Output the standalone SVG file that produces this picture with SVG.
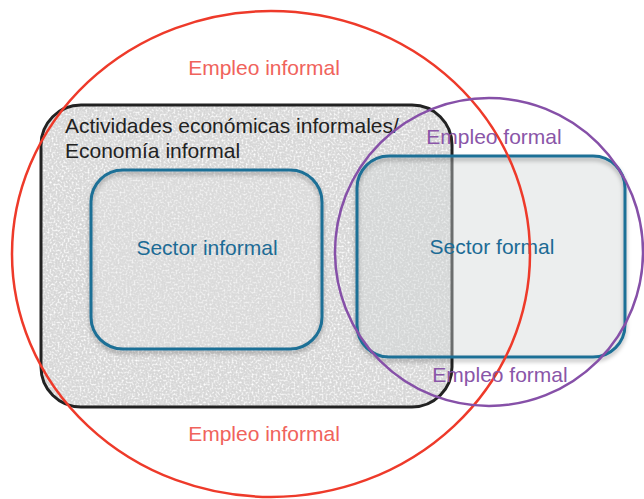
<svg xmlns="http://www.w3.org/2000/svg" width="644" height="499" viewBox="0 0 644 499">
<defs>
<filter id="speckle" x="0" y="0" width="100%" height="100%">
<feTurbulence type="fractalNoise" baseFrequency="0.5" numOctaves="2" seed="3" result="n"/>
<feColorMatrix in="n" type="matrix" values="0 0 0 0 1  0 0 0 0 1  0 0 0 0 1  2.5 0 0 0 -1.1" result="dots"/>
<feComposite in="dots" in2="SourceGraphic" operator="in" result="d2"/>
<feMerge><feMergeNode in="SourceGraphic"/><feMergeNode in="d2"/></feMerge>
</filter>
<filter id="shadow" x="-10%" y="-10%" width="120%" height="125%">
<feDropShadow dx="0" dy="3" stdDeviation="2" flood-color="#000" flood-opacity="0.3"/>
</filter>
<style>
.lbl{font-family:"Liberation Sans",Arial,sans-serif;font-size:21px}
.red{fill:#f0635c}
.pur{fill:#8a56a8}
.blu{fill:#1c6b95}
.blk{fill:#222}
.sector{stroke:#1f6f96;stroke-width:3;fill:none}
</style>
</defs>
<rect width="644" height="499" fill="#fff"/>
<g id="economia-informal">
<rect x="41" y="105" width="411" height="302" rx="40" fill="#d7d7d7" filter="url(#speckle)"/>
<text class="lbl blk" x="65" y="133">Actividades económicas informales/</text>
<text class="lbl blk" x="65" y="158">Economía informal</text>
</g>
<g id="sector-informal">
<rect x="91" y="170" width="231" height="179" rx="32" fill="#e0e0e0" fill-opacity="0.3"/>
<rect class="sector" x="91" y="170" width="231" height="179" rx="32" filter="url(#shadow)"/>
<text class="lbl blu" x="207" y="255" text-anchor="middle">Sector informal</text>
</g>
<g id="economia-informal-border">
<rect x="41" y="105" width="411" height="302" rx="40" fill="none" stroke="#222" stroke-width="3"/>
</g>
<g id="sector-formal">
<rect x="357" y="156" width="268" height="201" rx="32" fill="#d2d6d6" fill-opacity="0.42"/>
<rect class="sector" x="357" y="156" width="268" height="201" rx="32" filter="url(#shadow)"/>
<text class="lbl blu" x="492" y="254" text-anchor="middle">Sector formal</text>
</g>
<g id="connectors"></g>
<g id="empleo-informal">
<ellipse cx="271" cy="254" rx="259" ry="243" fill="none" stroke="#ee3a2a" stroke-width="2.5"/>
<text class="lbl red" x="264" y="75" text-anchor="middle">Empleo informal</text>
<text class="lbl red" x="264" y="441" text-anchor="middle">Empleo informal</text>
</g>
<g id="empleo-formal">
<circle cx="489" cy="252" r="154" fill="none" stroke="#8650a8" stroke-width="2.5"/>
<text class="lbl pur" x="494" y="144" text-anchor="middle">Empleo formal</text>
<text class="lbl pur" x="500" y="382" text-anchor="middle">Empleo formal</text>
</g>
</svg>
